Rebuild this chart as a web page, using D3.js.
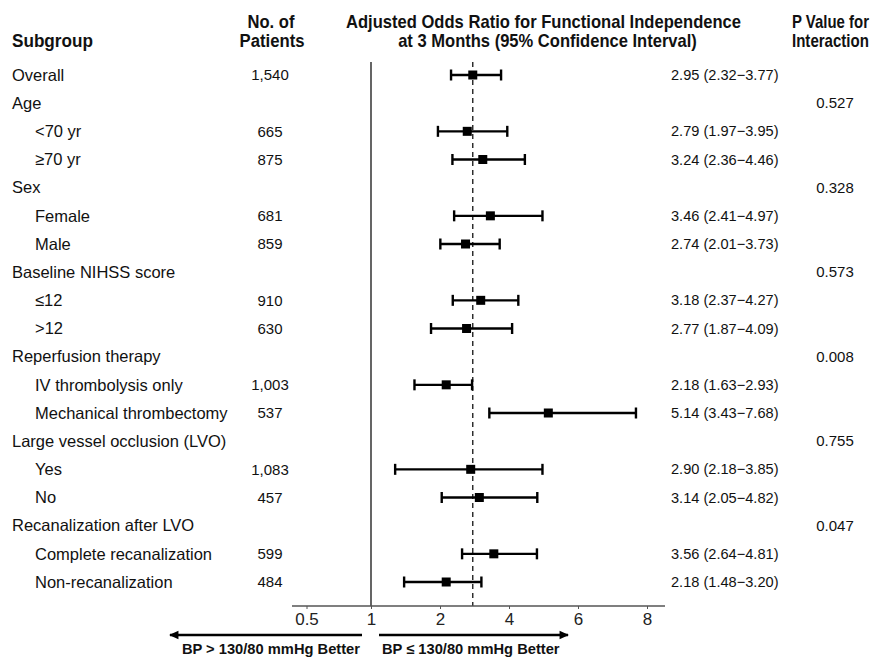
<!DOCTYPE html>
<html><head><meta charset="utf-8">
<script src="https://cdn.jsdelivr.net/npm/d3@7"></script>
<style>body{margin:0;background:#fff}svg{display:block}</style>
</head><body>
<svg id="c" width="875" height="657"></svg>
<script>
const labels = ["Overall","Age","<70 yr","≥70 yr","Sex","Female","Male","Baseline NIHSS score","≤12",">12","Reperfusion therapy","IV thrombolysis only","Mechanical thrombectomy","Large vessel occlusion (LVO)","Yes","No","Recanalization after LVO","Complete recanalization","Non-recanalization"];
const indent = [0,0,1,1,0,1,1,0,1,1,0,1,1,0,1,1,0,1,1];
const patients = ["1,540","","665","875","","681","859","","910","630","","1,003","537","","1,083","457","","599","484"];
const orVal = [2.95,null,2.79,3.24,null,3.46,2.74,null,3.18,2.77,null,2.18,5.14,null,2.89,3.14,null,3.56,2.18];
const lower = [2.32,null,1.97,2.36,null,2.41,2.01,null,2.37,1.87,null,1.63,3.43,null,1.35,2.05,null,2.64,1.48];
const upper = [3.77,null,3.95,4.46,null,4.97,3.73,null,4.27,4.09,null,2.93,7.68,null,4.97,4.82,null,4.81,3.20];
const ciText = ["2.95 (2.32−3.77)","","2.79 (1.97−3.95)","3.24 (2.36−4.46)","","3.46 (2.41−4.97)","2.74 (2.01−3.73)","","3.18 (2.37−4.27)","2.77 (1.87−4.09)","","2.18 (1.63−2.93)","5.14 (3.43−7.68)","","2.90 (2.18−3.85)","3.14 (2.05−4.82)","","3.56 (2.64−4.81)","2.18 (1.48−3.20)"];
const pValues = ["","0.527","","","0.328","","","0.573","","","0.008","","","0.755","","","0.047","",""];
const ticks = [0.5,1,2,4,6,8];
const refLine = 2.95;

const svg = d3.select("#c");
const font = "'Liberation Sans', Arial, sans-serif";

const x = d3.scaleLinear().domain(ticks).range([306.5, 371, 440, 509, 578, 647]);
const y = d3.scaleLinear().domain([0, labels.length-1]).range([75, 582]);
const axisY = 606;

// headers (condensed bold via horizontal scaling)
const hdr = svg.append("g").attr("font-family", font).attr("font-weight","bold").attr("font-size",17.5).attr("fill","#111");
function htext(xp, yp, anchor, t, len) {
  const el = hdr.append("text").attr("x",0).attr("y",0).attr("text-anchor",anchor).text(t);
  const w = el.node().getComputedTextLength();
  const s = Math.min(1, len / w);
  el.attr("transform", `translate(${xp},${yp}) scale(${s},1)`);
}
htext(12,47,"start","Subgroup",81);
htext(271,28,"middle","No. of",47);
htext(272,47,"middle","Patients",65);
htext(543.5,28,"middle","Adjusted Odds Ratio for Functional Independence",395);
htext(547.5,47,"middle","at 3 Months (95% Confidence Interval)",299);
htext(792,28,"start","P Value for",77);
htext(792,47,"start","Interaction",77);

// rows text
const rows = svg.append("g").attr("font-family", font).attr("fill","#111");
labels.forEach((l,i)=>{
  rows.append("text").attr("x", indent[i]?35:12).attr("y", y(i)).attr("dy","0.35em").attr("font-size",16.5).text(l);
  if (patients[i]) rows.append("text").attr("x",270).attr("y",y(i)).attr("dy","0.35em").attr("font-size",15).attr("text-anchor","middle").text(patients[i]);
  if (ciText[i]) rows.append("text").attr("x",671).attr("y",y(i)).attr("dy","0.35em").attr("font-size",14.6).text(ciText[i]);
  if (pValues[i]) rows.append("text").attr("x",835).attr("y",y(i)).attr("dy","0.35em").attr("font-size",15).attr("text-anchor","middle").text(pValues[i]);
});

// reference lines
svg.append("line").attr("x1",x(1)).attr("x2",x(1)).attr("y1",62).attr("y2",axisY).attr("stroke","#555").attr("stroke-width",1.8);
svg.append("line").attr("x1",x(refLine)).attr("x2",x(refLine)).attr("y1",62).attr("y2",axisY).attr("stroke","#111").attr("stroke-width",1.3).attr("stroke-dasharray","5,4");

// CIs
const ci = svg.append("g").attr("stroke","#000").attr("stroke-width",2.4);
orVal.forEach((v,i)=>{
  if (v==null) return;
  const yy = y(i);
  ci.append("line").attr("x1",x(lower[i])).attr("x2",x(upper[i])).attr("y1",yy).attr("y2",yy);
  ci.append("line").attr("x1",x(lower[i])).attr("x2",x(lower[i])).attr("y1",yy-5.5).attr("y2",yy+5.5);
  ci.append("line").attr("x1",x(upper[i])).attr("x2",x(upper[i])).attr("y1",yy-5.5).attr("y2",yy+5.5);
  svg.append("rect").attr("x",x(v)-4.5).attr("y",yy-4.5).attr("width",9).attr("height",9).attr("fill","#000");
});

// axis
const ax = svg.append("g").attr("transform",`translate(0,${axisY})`)
  .call(d3.axisBottom(x).tickValues(ticks).tickFormat(d=>d).tickSize(3).tickSizeOuter(0).tickPadding(4));
ax.select(".domain").remove();
ax.insert("line",":first-child").attr("x1",292).attr("x2",665).attr("y1",0).attr("y2",0).attr("stroke","#555").attr("stroke-width",1.3);
ax.selectAll(".tick line").attr("stroke","#555");
ax.selectAll(".tick text").attr("font-family",font).attr("font-size",17).attr("fill","#222");

// arrows
const defs = svg.append("defs");
defs.append("marker").attr("id","ah").attr("viewBox","0 0 10 10").attr("refX",9).attr("refY",5)
  .attr("markerWidth",4).attr("markerHeight",3.6).attr("markerUnits","strokeWidth").attr("orient","auto-start-reverse")
  .append("path").attr("d","M0,0.5 L10,5 L0,9.5 Z").attr("fill","#000");
svg.append("line").attr("x1",362).attr("x2",170).attr("y1",635).attr("y2",635).attr("stroke","#000").attr("stroke-width",2.6).attr("marker-end","url(#ah)");
svg.append("line").attr("x1",379).attr("x2",568).attr("y1",635).attr("y2",635).attr("stroke","#000").attr("stroke-width",2.6).attr("marker-end","url(#ah)");
const bt = svg.append("g").attr("font-family",font).attr("font-weight","bold").attr("font-size",14.7).attr("fill","#111");
bt.append("text").attr("x",360).attr("y",654).attr("text-anchor","end").text("BP > 130/80 mmHg Better");
bt.append("text").attr("x",382).attr("y",654).text("BP ≤ 130/80 mmHg Better");
</script>
</body></html>
